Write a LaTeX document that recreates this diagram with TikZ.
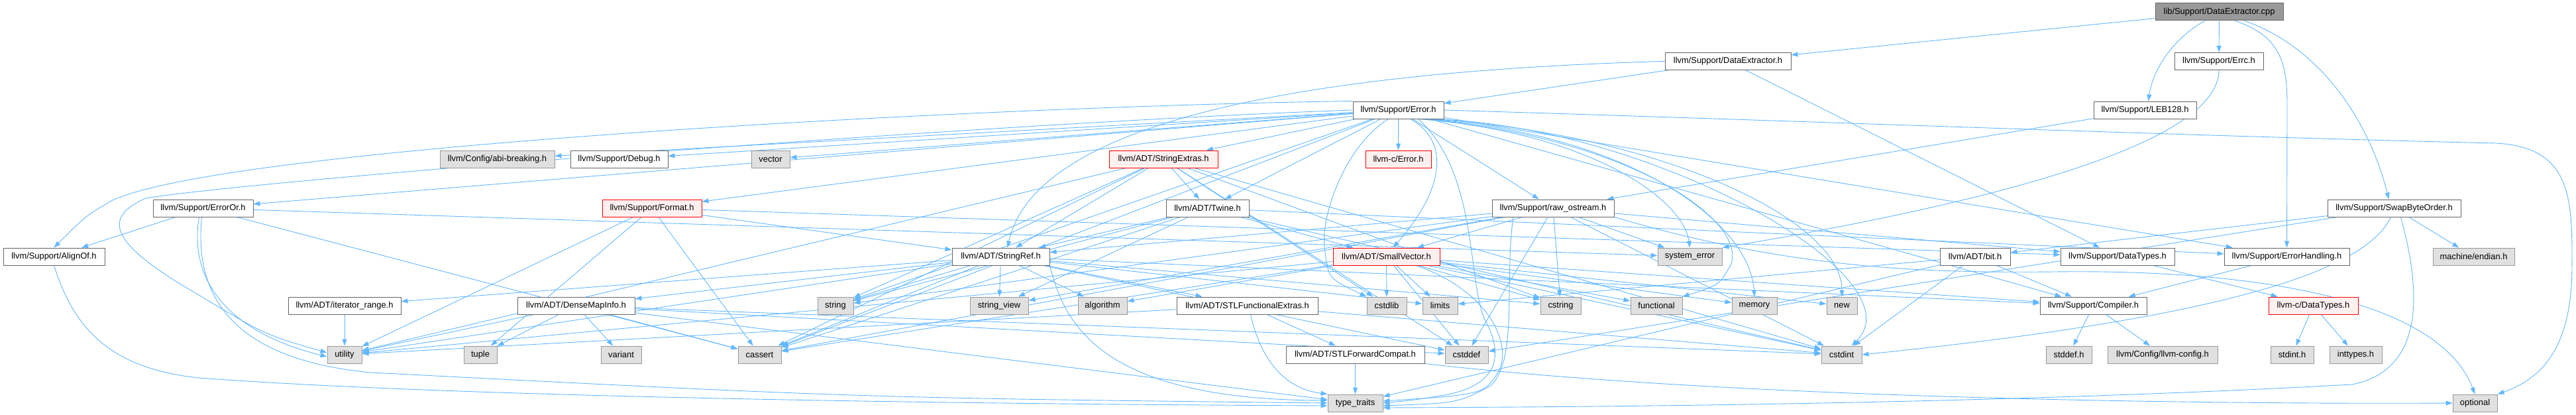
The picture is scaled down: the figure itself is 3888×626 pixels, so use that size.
\documentclass[tikz,border=0pt]{standalone}
\usepackage{fontspec}
\newfontfamily\lsans{Liberation Sans}
\usetikzlibrary{arrows.meta,backgrounds}
\definecolor{edgeblue}{HTML}{63B8FF}
\definecolor{wborder}{HTML}{666666}
\definecolor{gfill}{HTML}{E0E0E0}
\definecolor{gborder}{HTML}{999999}
\definecolor{rfill}{HTML}{FFF0F0}
\definecolor{rborder}{HTML}{FF0000}
\definecolor{rootfill}{HTML}{999999}
\tikzset{
  base/.style={rectangle, line width=1pt, minimum height=26pt, inner xsep=1pt, inner ysep=0pt,
    font=\lsans\fontsize{12.9}{15}\selectfont, text=black, anchor=center},
  wn/.style={base, draw=wborder, fill=white},
  gn/.style={base, draw=gborder, fill=gfill},
  rn/.style={base, draw=rborder, fill=rfill},
  rootn/.style={base, draw=wborder, fill=rootfill},
  edge/.style={draw=edgeblue, line width=0.9pt, -{Triangle[length=10pt,width=7pt]}}
}
\begin{document}
\begin{tikzpicture}[x=1pt,y=-1pt]
\useasboundingbox (0,0) rectangle (3888,626);
% row 0
\node[rootn, minimum width=193pt] (cpp) at (3349.5,18) {lib/Support/DataExtractor.cpp};
% row 1
\node[wn, minimum width=190pt] (dexh) at (2608,92.4) {llvm/Support/DataExtractor.h};
\node[wn, minimum width=134pt] (errc) at (3349,92.4) {llvm/Support/Errc.h};
% row 2
\node[wn, minimum width=137pt] (error) at (2110.5,166) {llvm/Support/Error.h};
\node[wn, minimum width=155pt] (leb) at (3237.5,166) {llvm/Support/LEB128.h};
% row 3
\node[gn, minimum width=173pt] (abi) at (750.5,240) {llvm/Config/abi-breaking.h};
\node[wn, minimum width=147pt] (debug) at (934.5,240) {llvm/Support/Debug.h};
\node[gn, minimum width=58pt] (vector) at (1163,240) {vector};
\node[rn, minimum width=164pt] (strext) at (1756,240) {llvm/ADT/StringExtras.h};
\node[rn, minimum width=99pt] (cerror) at (2110.5,240) {llvm-c/Error.h};
% row 4
\node[wn, minimum width=151pt] (erroror) at (306.5,314) {llvm/Support/ErrorOr.h};
\node[rn, minimum width=150pt] (format) at (984,314) {llvm/Support/Format.h};
\node[wn, minimum width=125pt] (twine) at (1822.5,314) {llvm/ADT/Twine.h};
\node[wn, minimum width=184pt] (rawos) at (2344,314) {llvm/Support/raw\_ostream.h};
\node[wn, minimum width=201pt] (swap) at (3613.5,314) {llvm/Support/SwapByteOrder.h};
% row 5
\node[wn, minimum width=153pt] (alignof) at (81.5,387) {llvm/Support/AlignOf.h};
\node[wn, minimum width=147pt] (strref) at (1510.5,387) {llvm/ADT/StringRef.h};
\node[rn, minimum width=161pt] (smallvec) at (2092.5,387) {llvm/ADT/SmallVector.h};
\node[gn, minimum width=97pt] (syserr) at (2550.5,387) {system\_error};
\node[wn, minimum width=106pt] (bit) at (2981,387) {llvm/ADT/bit.h};
\node[wn, minimum width=172pt] (datatypes) at (3196,387) {llvm/Support/DataTypes.h};
\node[wn, minimum width=189pt] (errhand) at (3451.5,387) {llvm/Support/ErrorHandling.h};
\node[gn, minimum width=123pt] (endian) at (3733.5,387) {machine/endian.h};
% row 6
\node[wn, minimum width=170pt] (itrange) at (520,461) {llvm/ADT/iterator\_range.h};
\node[wn, minimum width=177pt] (densemap) at (869.5,461) {llvm/ADT/DenseMapInfo.h};
\node[gn, minimum width=54pt] (string) at (1261,461) {string};
\node[gn, minimum width=88pt] (strview) at (1508,461) {string\_view};
\node[gn, minimum width=74pt] (algorithm) at (1664,461) {algorithm};
\node[wn, minimum width=213pt] (stlfunc) at (1882.5,461) {llvm/ADT/STLFunctionalExtras.h};
\node[gn, minimum width=60pt] (cstdlib) at (2093,461) {cstdlib};
\node[gn, minimum width=53pt] (limits) at (2173.5,461) {limits};
\node[gn, minimum width=61pt] (cstring) at (2355.5,461) {cstring};
\node[gn, minimum width=78pt] (functional) at (2500,461) {functional};
\node[gn, minimum width=68pt] (memory) at (2648,461) {memory};
\node[gn, minimum width=46pt] (new) at (2780,461) {new};
\node[wn, minimum width=161pt] (compiler) at (3159.5,461) {llvm/Support/Compiler.h};
\node[rn, minimum width=135pt] (cdatatypes) at (3491.5,461) {llvm-c/DataTypes.h};
% row 7
\node[gn, minimum width=52pt] (utility) at (520,535) {utility};
\node[gn, minimum width=50pt] (tuple) at (725,535) {tuple};
\node[gn, minimum width=61pt] (variant) at (937.5,535) {variant};
\node[gn, minimum width=65pt] (cassert) at (1146.5,535) {cassert};
\node[wn, minimum width=209pt] (stlfwd) at (2045.5,535) {llvm/ADT/STLForwardCompat.h};
\node[gn, minimum width=65pt] (cstddef) at (2213.5,535) {cstddef};
\node[gn, minimum width=61pt] (cstdint) at (2779.5,535) {cstdint};
\node[gn, minimum width=69pt] (stddef) at (3122.5,535) {stddef.h};
\node[gn, minimum width=166pt] (llvmconfig) at (3264,535) {llvm/Config/llvm-config.h};
\node[gn, minimum width=65pt] (stdint) at (3459.5,535) {stdint.h};
\node[gn, minimum width=79pt] (inttypes) at (3555.5,535) {inttypes.h};
% row 8
\node[gn, minimum width=83pt] (typetraits) at (2045.5,608) {type\_traits};
\node[gn, minimum width=67pt] (optional) at (3735.5,608) {optional};
% edges
\begin{pgfonlayer}{background}
\foreach \a/\b in {cpp/dexh, cpp/errc,
  dexh/datatypes, dexh/error,
  leb/rawos,
  error/cerror, error/strext, error/twine, error/abi,
  error/compiler, error/debug, error/errhand, error/erroror, error/format, error/rawos,
  error/cassert, error/string, error/vector,
  strext/strref, strext/twine, strext/cassert, strext/cstddef, strext/cstdint, strext/cstdlib,
  strext/cstring, strext/string, strext/utility,
  twine/smallvec, twine/strref, twine/errhand, twine/cassert, twine/cstdint, twine/string, twine/strview,
  rawos/smallvec, rawos/strref, rawos/datatypes, rawos/cassert, rawos/cstddef, rawos/cstdint,
  rawos/cstring, rawos/string, rawos/strview, rawos/syserr,
  format/strref, format/datatypes, format/cassert, format/tuple, format/utility,
  erroror/alignof, erroror/cassert, erroror/syserr,
  strref/densemap, strref/stlfunc, strref/itrange, strref/compiler, strref/algorithm, strref/cassert,
  strref/cstddef, strref/cstring, strref/limits, strref/string, strref/strview, strref/utility,
  smallvec/compiler, smallvec/algorithm, smallvec/cassert, smallvec/cstddef, smallvec/cstdint,
  smallvec/cstdlib, smallvec/cstring, smallvec/functional, smallvec/limits, smallvec/memory,
  smallvec/new, smallvec/utility,
  itrange/utility,
  densemap/cassert, densemap/cstddef, densemap/cstdint, densemap/tuple, densemap/typetraits,
  densemap/utility, densemap/variant,
  stlfunc/stlfwd, stlfunc/cstdint, stlfunc/utility,
  stlfwd/typetraits,
  compiler/llvmconfig, compiler/stddef,
  datatypes/cdatatypes, cdatatypes/inttypes, cdatatypes/stdint,
  errhand/compiler,
  bit/compiler, bit/cstdint, bit/limits, bit/typetraits,
  swap/bit, swap/cstddef, swap/endian}
  \draw[edge] (\a) -- (\b);
% routed edges
\draw[edge] ([xshift=24pt]cpp.south) .. controls (3445,55) and (3452,100) .. (3452,160) -- (errhand.north);
\draw[edge] ([xshift=38pt]cpp.south) .. controls (3500,70) and (3575,180) .. ([xshift=-8pt]swap.north);
\draw[edge] ([xshift=-22pt]cpp.south) .. controls (3285,55) and (3250,100) .. ([xshift=5pt]leb.north);
\draw[edge] (errc.south) .. controls (3349,200) and (3100,290) .. (syserr.north east);
\draw[edge] (dexh.west) .. controls (1900,110) and (1560,200) .. ([xshift=10pt]strref.north);
\draw[edge] (error.west) .. controls (1500,185) and (400,270) .. (220,299) .. controls (150,330) and (170,370) .. (300,445) .. controls (400,505) .. ([yshift=3pt]utility.west);
\draw[edge] (error.north west) .. controls (1500,160) and (350,220) .. (170,302) .. controls (130,325) .. (alignof.north);
\draw[edge] ([xshift=18pt]error.south) .. controls (2185,210) and (2185,280) .. ([xshift=10pt]smallvec.north);
\draw[edge] ([xshift=-15pt]error.south) .. controls (2030,220) and (1990,330) .. (2000,380) .. controls (2005,420) .. (cstdlib.north west);
\draw[edge] ([xshift=50pt]error.south) .. controls (2500,190) and (2900,420) .. ([xshift=15pt]cstdint.north);
\draw[edge] ([xshift=40pt]error.south) .. controls (2450,200) and (2640,330) .. (memory.north);
\draw[edge] ([xshift=45pt]error.south) .. controls (2500,200) and (2780,330) .. (new.north);
\draw[edge] ([xshift=35pt]error.south) .. controls (2450,205) and (2640,330) .. (2612,400) .. controls (2595,430) .. (functional.north east);
\draw[edge] ([xshift=30pt]error.south) .. controls (2400,200) and (2540,300) .. (syserr.north);
\draw[edge] ([xshift=-6pt]erroror.south) .. controls (285,420) and (340,500) .. ([yshift=-3pt]utility.west);
\draw[edge] ([xshift=-2pt]erroror.south) .. controls (290,470) and (380,545) .. (560,562) .. controls (1300,600) .. (typetraits.west);
\draw[edge] (alignof.south) .. controls (110,490) and (160,555) .. (300,570) .. controls (700,600) and (1500,610) .. ([yshift=-4pt]typetraits.west);
\draw[edge] ([xshift=30pt]error.south) .. controls (2230,260) and (2215,420) .. (2240,480) .. controls (2268,530) and (2268,580) .. (2180,596) .. controls (2130,604) .. (typetraits.east);
\draw[edge] ([xshift=45pt]smallvec.south) .. controls (2250,440) and (2282,520) .. (2262,560) .. controls (2240,595) .. ([yshift=3pt]typetraits.east);
\draw[edge] ([xshift=-60pt]rawos.south) .. controls (2270,420) and (2292,540) .. (2250,582) .. controls (2200,608) .. ([yshift=-4pt]typetraits.east);
\draw[edge] (strref.south east) .. controls (1605,480) and (1650,603) .. ([yshift=4pt]typetraits.west);
\draw[edge] ([xshift=5pt]stlfunc.south) .. controls (1900,530) and (1930,585) .. (typetraits.north west);
\draw[edge] ([xshift=10pt]swap.south) .. controls (3660,460) and (3650,560) .. (3550,580) .. controls (3000,610) and (2400,614) .. ([yshift=-7pt]typetraits.east);
\draw[edge] ([xshift=-5pt]swap.south) .. controls (3570,410) and (3350,480) .. (cstdint.east);
\draw[edge] (rawos.south east) .. controls (2700,405) and (2900,412) .. (3100,410) .. controls (3400,406) and (3680,450) .. (optional.north);
\draw[edge] (error.east) .. controls (2800,185) and (3300,205) .. (3767,216) .. controls (3882,222) and (3882,300) .. (3882,400) .. controls (3882,520) and (3840,570) .. (optional.north east);
\draw[edge] (stlfwd.south east) .. controls (2600,600) and (3300,610) .. (optional.west);
\end{pgfonlayer}
\end{tikzpicture}
\end{document}
